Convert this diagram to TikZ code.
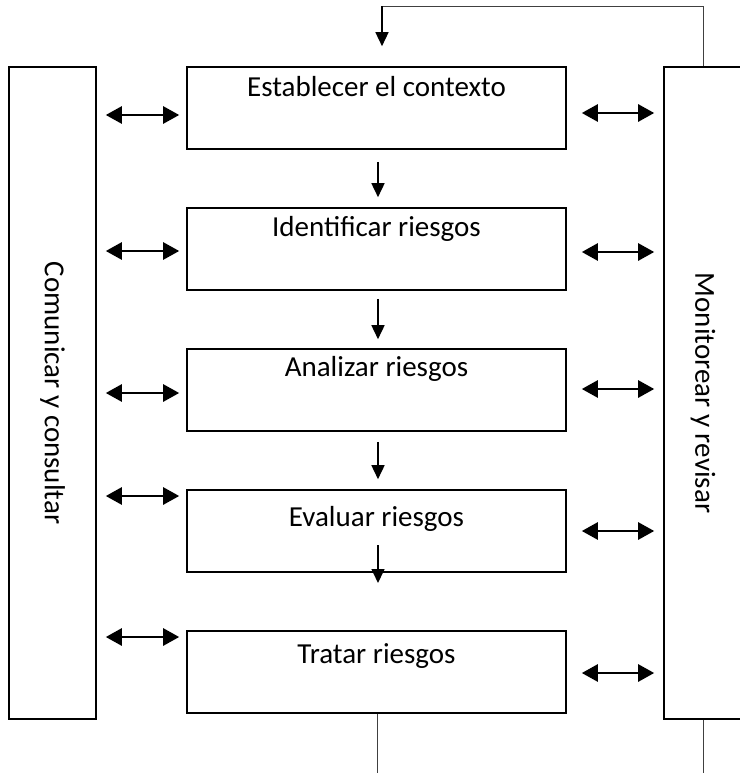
\documentclass[tikz,border=0pt]{standalone}
\usepackage{fontspec}
\setmainfont{Carlito}
\usetikzlibrary{arrows.meta,positioning}
\tikzset{paso/.style={draw, line width=1.6pt, minimum width=379pt, minimum height=82pt, inner sep=0pt}}
\tikzstyle{lado}=[draw, line width=1.6pt, inner sep=0pt, rotate=-90, minimum width=652pt]
\tikzstyle{flecha}=[-{Triangle[length=14pt,width=13pt]}, line width=1.6pt]
\tikzstyle{doble}=[{Triangle[length=16pt,width=17pt]}-{Triangle[length=16pt,width=17pt]}, line width=2.6pt]
\tikzstyle{linea}=[line width=1pt, black!75]

\begin{document}
\begin{tikzpicture}[x=1pt, y=1pt, node distance=141pt, font=\fontsize{29}{35}\selectfont]
\useasboundingbox (0,0) rectangle (739,-773);
% pasos del proceso
\node[paso] (B1) at (376.5,-108) {};
\node[paso][below of =B1] (B2) {};
\node[paso][below of =B2] (B3) {};
\node[paso][below of =B3] (B4) {};
\node[paso][below of =B4] (B5) {};
\node[anchor=base] (t1) at ([yshift=-30pt]B1.north) {Establecer el contexto};
\node[anchor=base] (t2) at ([yshift=-29pt]B2.north) {Identificar riesgos};
\node[anchor=base] (t3) at ([yshift=-28pt]B3.north) {Analizar riesgos};
\node[anchor=base] (t4) at ([yshift=-37pt]B4.north) {Evaluar riesgos};
\node[anchor=base] (t5) at ([yshift=-33pt]B5.north) {Tratar riesgos};
% columnas laterales
\node[lado, minimum height=87pt] (C) at (52.5,-393) {Comunicar y consultar};
\node[lado, minimum height=78pt] (M) at (703,-393) {Monitorear y revisar};

\draw[flecha, shorten <=12pt, shorten >=10pt] ([xshift=1.5pt]B1.south) -- ([xshift=1.5pt]B2.north);
\draw[flecha, shorten <=8pt, shorten >=9pt] ([xshift=1.5pt]B2.south) -- ([xshift=1.5pt]B3.north);
\draw[flecha, shorten <=10pt, shorten >=10pt] ([xshift=1.5pt]B3.south) -- ([xshift=1.5pt]B4.north);
\draw[flecha] ([xshift=1.5pt,yshift=-14pt]B4.center) -- ([xshift=1.5pt,yshift=-52pt]B4.center);

\draw[doble, shorten <=9pt, shorten >=7pt] ([yshift=-7pt]B1.west -| C.north) -- ([yshift=-7pt]B1.west);
\draw[doble, shorten <=9pt, shorten >=7pt] ([yshift=-2pt]B2.west -| C.north) -- ([yshift=-2pt]B2.west);
\draw[doble, shorten <=9pt, shorten >=7pt] ([yshift=-3pt]B3.west -| C.north) -- ([yshift=-3pt]B3.west);
\draw[doble, shorten <=9pt, shorten >=7pt] ([yshift=35pt]B4.west -| C.north) -- ([yshift=35pt]B4.west);
\draw[doble, shorten <=9pt, shorten >=7pt] ([yshift=35pt]B5.west -| C.north) -- ([yshift=35pt]B5.west);

\draw[doble, shorten <=15pt, shorten >=9pt] ([yshift=-5pt]B1.east) -- ([yshift=-5pt]B1.east -| M.south);
\draw[doble, shorten <=15pt, shorten >=9pt] ([yshift=-3pt]B2.east) -- ([yshift=-3pt]B2.east -| M.south);
\draw[doble, shorten <=15pt, shorten >=9pt] ([yshift=1pt]B3.east) -- ([yshift=1pt]B3.east -| M.south);
\draw[doble, shorten <=15pt, shorten >=9pt] (B4.east) -- (B4.east -| M.south);
\draw[doble, shorten <=15pt, shorten >=9pt] ([yshift=-1pt]B5.east) -- ([yshift=-1pt]B5.east -| M.south);

% retroalimentacion
\coordinate (R) at ([yshift=60pt]M.west);
\coordinate (A) at ([xshift=5.5pt]B1.north);
\draw[linea] (M.west) -- (R) -- (R -| A);
\draw[flecha, line width=1.4pt, shorten >=20pt] (R -| A) -- (A);
\draw[linea] ([xshift=1pt]B5.south) -- ++(0,-70);
\draw[linea] (M.east) -- ++(0,-70);
\end{tikzpicture}
\end{document}
